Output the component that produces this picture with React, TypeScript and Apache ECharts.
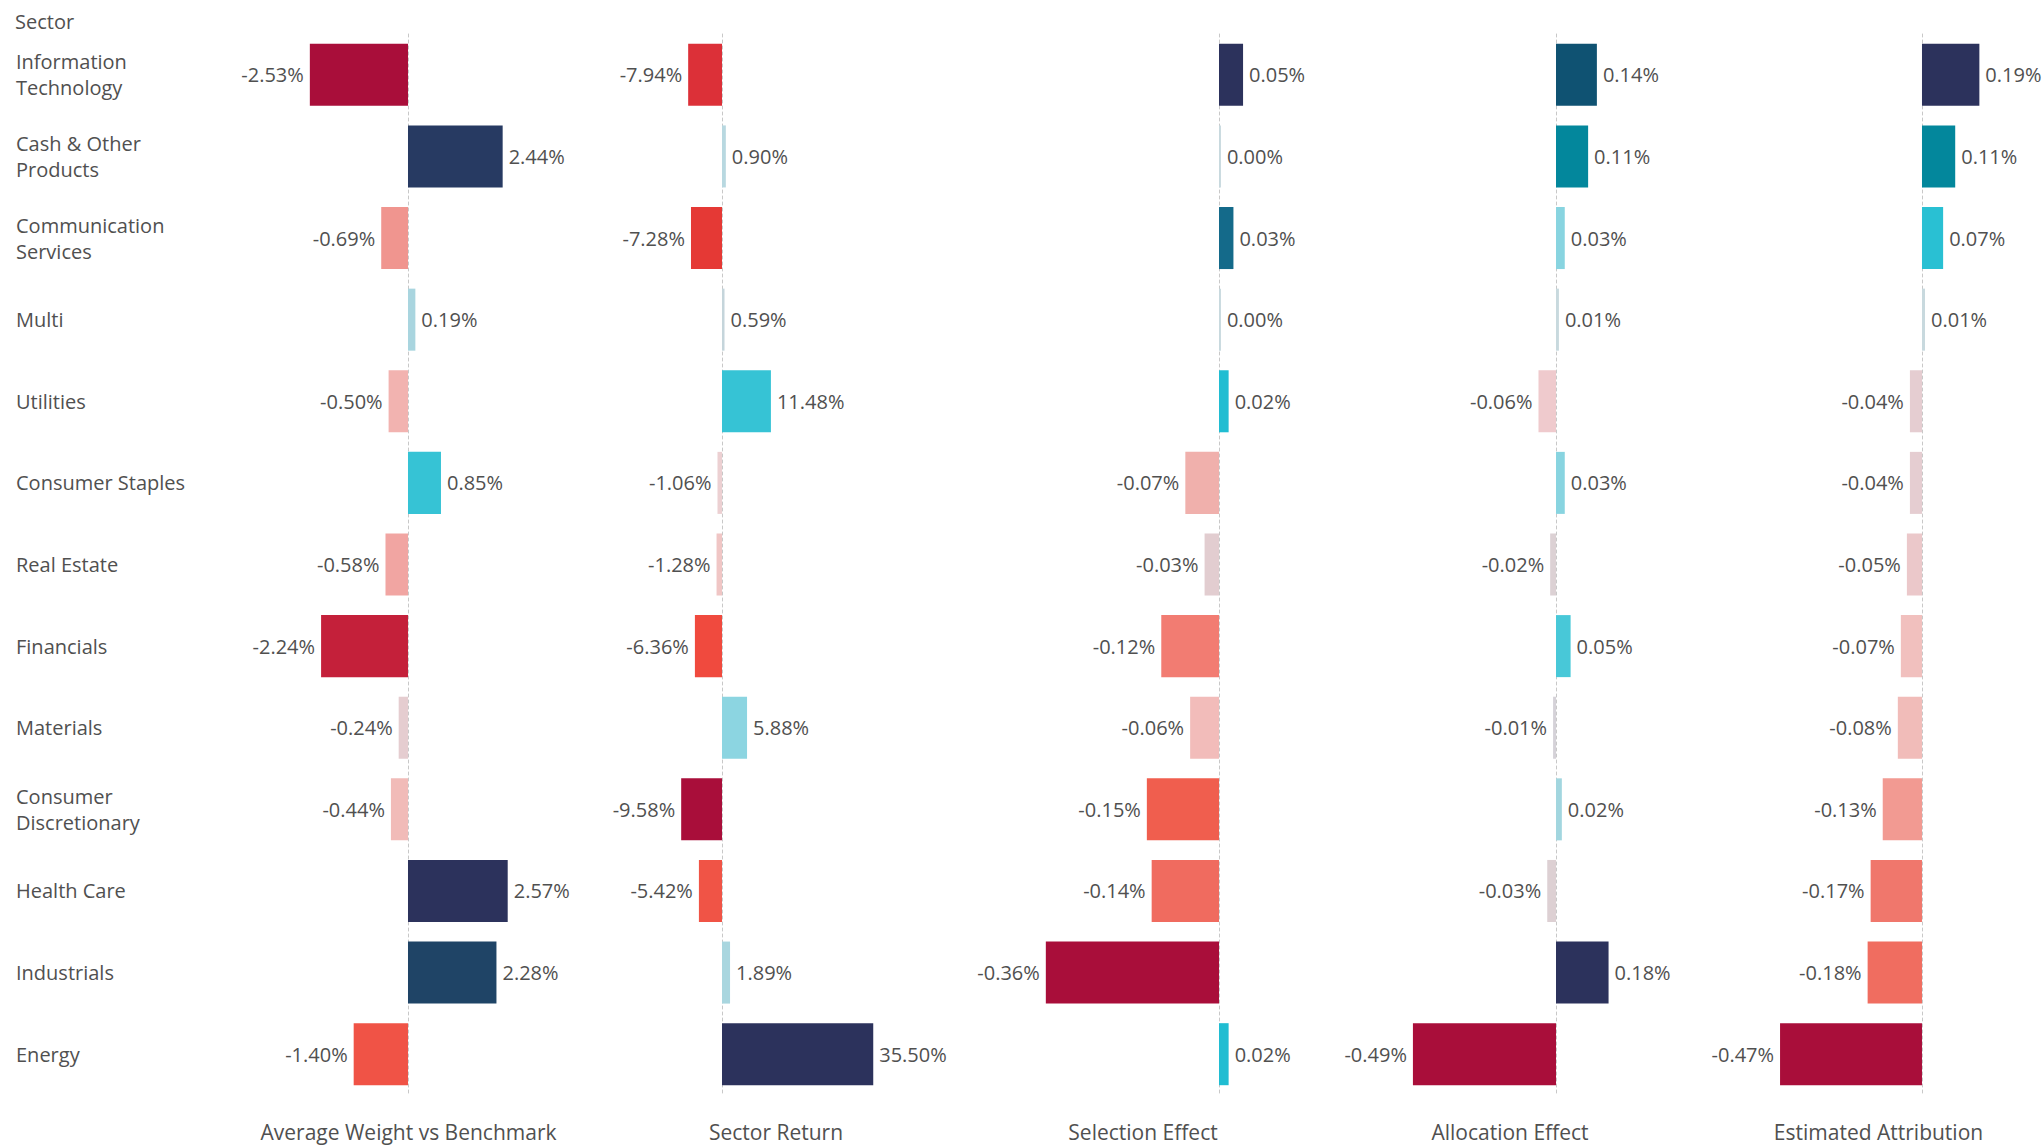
import React, { useEffect, useRef } from "react";
import * as echarts from "echarts";

const categories = [
  "Information Technology",
  "Cash & Other Products",
  "Communication Services",
  "Multi",
  "Utilities",
  "Consumer Staples",
  "Real Estate",
  "Financials",
  "Materials",
  "Consumer Discretionary",
  "Health Care",
  "Industrials",
  "Energy",
];

const panelTitles = [
  "Average Weight vs Benchmark",
  "Sector Return",
  "Selection Effect",
  "Allocation Effect",
  "Estimated Attribution",
];

const avgWeight = [-2.53, 2.44, -0.69, 0.19, -0.5, 0.85, -0.58, -2.24, -0.24, -0.44, 2.57, 2.28, -1.4];
const sectorReturn = [-7.94, 0.9, -7.28, 0.59, 11.48, -1.06, -1.28, -6.36, 5.88, -9.58, -5.42, 1.89, 35.5];
const selectionEffect = [0.05, 0.004, 0.03, 0.004, 0.02, -0.07, -0.03, -0.12, -0.06, -0.15, -0.14, -0.36, 0.02];
const allocationEffect = [0.14, 0.11, 0.03, 0.01, -0.06, 0.03, -0.02, 0.05, -0.01, 0.02, -0.03, 0.18, -0.49];
const estimatedAttribution = [0.19, 0.11, 0.07, 0.01, -0.04, -0.04, -0.05, -0.07, -0.08, -0.13, -0.17, -0.18, -0.47];

const avgWeightColors = ["#A90E3A", "#273A62", "#F0958F", "#A9D5DF", "#F2B3B0", "#36C3D5", "#F1A5A2", "#C4203A", "#E5CDD0", "#F1BBB8", "#2C325C", "#1F4466", "#F05346"];
const sectorReturnColors = ["#DC3038", "#B8D8E0", "#E53935", "#C5D5DB", "#36C3D5", "#ECD0D2", "#F0C6C5", "#F04A3E", "#8CD5E1", "#A90E3A", "#F05446", "#A9D6DF", "#2C325C"];
const selectionColors = ["#2C325C", "#C8D9DE", "#146A8A", "#C8D9DE", "#20BDD2", "#F0B0AC", "#E2CDD0", "#F27C72", "#F2BCBA", "#F05E4E", "#F06B5F", "#A90E3A", "#20BDD2"];
const allocationColors = ["#0F5272", "#03879C", "#88D4E0", "#C8D9DE", "#EFCACD", "#88D4E0", "#DCD1D4", "#48C8D8", "#D5D2D8", "#A2D6DF", "#DDD0D3", "#2C325C", "#A90E3A"];
const attributionColors = ["#2C325C", "#03879C", "#29C0D3", "#C8D9DE", "#E5CDD1", "#E5CDD1", "#EBC8CA", "#F1C0BE", "#F1BCB9", "#F29A92", "#F0776C", "#F06D60", "#A90E3A"];

const panelValues = [avgWeight, sectorReturn, selectionEffect, allocationEffect, estimatedAttribution];
const panelColors = [avgWeightColors, sectorReturnColors, selectionColors, allocationColors, attributionColors];

// layout: grid centers and axis ranges (pixels derived from reference)
const gridCenters = [408.5, 776, 1143, 1510, 1878.5];
const gridWidth = 320;
const axisMins = [-4.111, -24.88, -0.4906, -0.7055, -0.6738];
const axisMaxs = [4.137, 50.23, 0.1746, 0.3904, 0.3858];

const TEXT = "#505050";
const FONT = "'Open Sans', sans-serif";

function wrapLabel(s: string, maxChars: number) {
  const words = s.split(" ");
  const lines: string[] = [];
  let cur = "";
  for (const w of words) {
    const next = cur ? cur + " " + w : w;
    if (next.length > maxChars && cur) {
      lines.push(cur);
      cur = w;
    } else {
      cur = next;
    }
  }
  if (cur) lines.push(cur);
  return lines.join("\n");
}

export default function App() {
  const ref = useRef<HTMLDivElement>(null);

  useEffect(() => {
    if (!ref.current) return;
    const chart = echarts.init(ref.current, undefined, { renderer: "svg" });

    const grids = gridCenters.map((c) => ({
      left: c - gridWidth / 2,
      width: gridWidth,
      top: 34,
      bottom: 52,
      containLabel: false,
      outerBoundsMode: "none",
    }));

    const xAxes = gridCenters.map((_, i) => ({
      type: "value",
      gridIndex: i,
      min: axisMins[i],
      max: axisMaxs[i],
      name: panelTitles[i],
      nameLocation: "middle",
      nameGap: 26,
      nameTextStyle: { fontSize: 21, color: TEXT, fontFamily: FONT },
      axisLine: { show: false },
      axisTick: { show: false },
      axisLabel: { show: false },
      splitLine: { show: false },
    }));

    const yAxes = gridCenters.map((c, i) => ({
      type: "category",
      gridIndex: i,
      data: categories,
      inverse: true,
      axisLine: {
        show: true,
        onZero: true,
        lineStyle: { color: "#C8C8C8", width: 1, type: [3, 3] },
      },
      axisTick: { show: false },
      splitLine: { show: false },
      axisLabel:
        i === 0
          ? {
              show: true,
              align: "left",
              margin: gridCenters[0] - gridWidth / 2 - 16,
              fontSize: 20,
              lineHeight: 26,
              color: TEXT,
              fontFamily: FONT,
              formatter: (v: string) => wrapLabel(v, 16),
            }
          : { show: false },
      z: 0,
    }));

    const series = panelValues.map((vals, i) => ({
      type: "bar",
      xAxisIndex: i,
      yAxisIndex: i,
      barWidth: "76%",
      z: 3,
      label: {
        show: true,
        distance: 6,
        fontSize: 20,
        color: TEXT,
        fontFamily: FONT,
        formatter: (p: any) => `${Number(p.value).toFixed(2)}%`,
      },
      data: vals.map((v, j) => ({
        value: v,
        itemStyle: { color: panelColors[i][j] },
        label: { position: v < 0 ? "left" : "right" },
      })),
    }));

    chart.setOption({
      animation: false,
      backgroundColor: "#FFFFFF",
      textStyle: { fontFamily: FONT },
      title: {
        text: "Sector",
        left: 10,
        top: 6,
        textStyle: { fontSize: 20, fontWeight: "normal", color: TEXT, fontFamily: FONT },
      },
      grid: grids,
      xAxis: xAxes,
      yAxis: yAxes,
      series,
    });

    return () => chart.dispose();
  }, []);

  return (
    <div
      ref={ref}
      style={{ position: "absolute", left: 0, top: 0, width: 2042, height: 1147 }}
    />
  );
}
